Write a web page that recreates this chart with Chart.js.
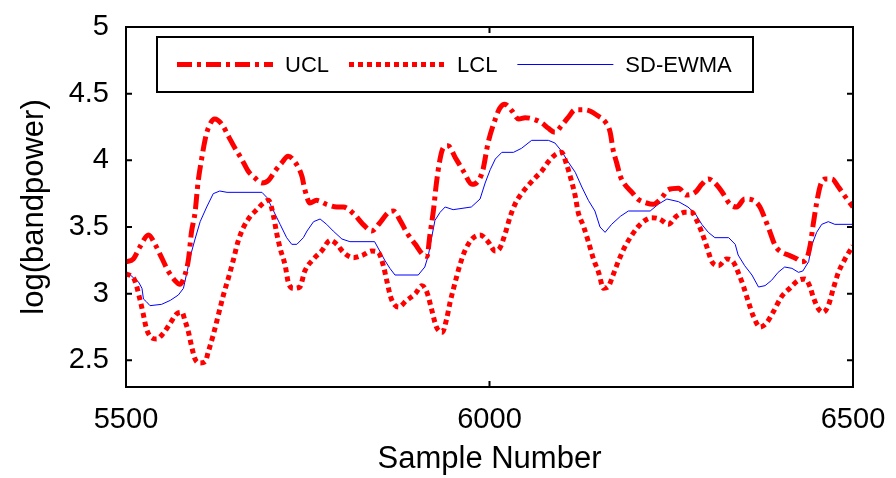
<!DOCTYPE html>
<html>
<head>
<meta charset="utf-8">
<script src="https://cdn.jsdelivr.net/npm/chart.js@4.4.1/dist/chart.umd.min.js"></script>
<style>
  body { margin: 0; background: #fff; }
</style>
</head>
<body>
<canvas id="myChart" width="896" height="478"></canvas>
<script>
const xTicks = [5500, 6000, 6500];
const yTicks = [2.5, 3, 3.5, 4, 4.5, 5];

// upper control limit
const uclSample = [5500, 5510, 5519, 5531, 5540, 5549, 5558, 5567, 5574, 5581, 5586, 5590, 5595, 5599, 5604, 5609, 5613, 5622, 5632, 5641,
  5650, 5659, 5668, 5677, 5687, 5696, 5705, 5714, 5723, 5732, 5742, 5746, 5753, 5762, 5776, 5790, 5799, 5813, 5826, 5838,
  5849, 5861, 5868, 5877, 5886, 5898, 5909, 5914, 5918, 5923, 5927, 5932, 5936, 5943, 5953, 5964, 5976, 5985, 5991, 5998,
  6008, 6014, 6021, 6031, 6040, 6049, 6060, 6072, 6081, 6090, 6099, 6108, 6118, 6129, 6138, 6150, 6159, 6166, 6170, 6175,
  6180, 6186, 6196, 6204, 6216, 6225, 6237, 6246, 6260, 6271, 6283, 6292, 6301, 6310, 6319, 6331, 6340, 6351, 6363, 6372,
  6379, 6386, 6393, 6402, 6411, 6423, 6429, 6436, 6441, 6445, 6450, 6455, 6462, 6471, 6480, 6489, 6500];
const uclValue = [3.24, 3.26, 3.35, 3.44, 3.37, 3.27, 3.17, 3.10, 3.07, 3.14, 3.26, 3.46, 3.61, 3.83, 4.01, 4.16, 4.24, 4.31, 4.27, 4.18,
  4.09, 4.01, 3.92, 3.87, 3.83, 3.85, 3.92, 3.98, 4.03, 3.99, 3.88, 3.78, 3.68, 3.70, 3.67, 3.65, 3.65, 3.60, 3.52, 3.47,
  3.53, 3.61, 3.62, 3.55, 3.46, 3.37, 3.29, 3.28, 3.44, 3.63, 3.83, 4.01, 4.09, 4.11, 4.02, 3.92, 3.82, 3.85, 3.93, 4.13,
  4.31, 4.39, 4.42, 4.37, 4.31, 4.32, 4.31, 4.28, 4.24, 4.21, 4.26, 4.32, 4.38, 4.38, 4.37, 4.33, 4.29, 4.21, 4.08, 3.98,
  3.88, 3.82, 3.76, 3.71, 3.68, 3.67, 3.72, 3.78, 3.79, 3.74, 3.76, 3.82, 3.86, 3.83, 3.77, 3.67, 3.65, 3.71, 3.70, 3.65,
  3.56, 3.46, 3.36, 3.31, 3.29, 3.26, 3.24, 3.26, 3.36, 3.51, 3.68, 3.81, 3.86, 3.86, 3.80, 3.73, 3.65];

// lower control limit
const lclSample = [5500, 5512, 5519, 5524, 5528, 5535, 5542, 5551, 5561, 5570, 5577, 5581, 5586, 5590, 5595, 5602, 5609, 5613, 5620, 5627,
  5634, 5641, 5648, 5654, 5661, 5671, 5680, 5689, 5696, 5703, 5707, 5712, 5719, 5723, 5730, 5739, 5746, 5758, 5769, 5781,
  5790, 5799, 5813, 5826, 5838, 5847, 5854, 5859, 5865, 5875, 5886, 5898, 5907, 5914, 5920, 5927, 5935, 5941, 5946, 5953,
  5959, 5966, 5976, 5987, 5998, 6008, 6014, 6021, 6028, 6035, 6044, 6053, 6063, 6072, 6081, 6090, 6099, 6106, 6112, 6118,
  6122, 6129, 6136, 6143, 6150, 6157, 6163, 6170, 6177, 6186, 6196, 6204, 6214, 6223, 6234, 6246, 6257, 6269, 6278, 6285,
  6292, 6299, 6306, 6315, 6326, 6335, 6342, 6349, 6356, 6363, 6372, 6381, 6390, 6402, 6413, 6425, 6434, 6441, 6445, 6452,
  6459, 6466, 6473, 6480, 6489, 6500];
const lclValue = [3.15, 3.10, 2.96, 2.84, 2.74, 2.67, 2.66, 2.70, 2.78, 2.85, 2.86, 2.80, 2.71, 2.61, 2.51, 2.48, 2.49, 2.56, 2.69, 2.84,
  2.99, 3.12, 3.26, 3.39, 3.49, 3.58, 3.63, 3.68, 3.70, 3.58, 3.46, 3.34, 3.21, 3.09, 3.04, 3.05, 3.17, 3.26, 3.32, 3.40,
  3.37, 3.31, 3.27, 3.29, 3.32, 3.31, 3.21, 3.09, 2.96, 2.90, 2.95, 3.00, 3.06, 3.01, 2.89, 2.75, 2.71, 2.81, 2.94, 3.09,
  3.21, 3.32, 3.41, 3.44, 3.39, 3.32, 3.34, 3.44, 3.57, 3.67, 3.75, 3.81, 3.87, 3.92, 3.99, 4.04, 4.06, 3.97, 3.86, 3.73,
  3.61, 3.51, 3.39, 3.26, 3.16, 3.04, 3.05, 3.14, 3.24, 3.35, 3.44, 3.50, 3.55, 3.57, 3.56, 3.52, 3.58, 3.61, 3.61, 3.55,
  3.46, 3.35, 3.24, 3.21, 3.26, 3.24, 3.16, 3.06, 2.94, 2.83, 2.75, 2.78, 2.86, 2.98, 3.04, 3.10, 3.11, 3.05, 2.98, 2.89,
  2.86, 2.91, 3.04, 3.16, 3.26, 3.36];

// SD-EWMA statistic
const ewmaSample = [5500, 5510, 5517, 5522, 5524, 5528, 5533, 5549, 5561, 5572, 5579, 5583, 5590, 5595, 5602, 5611, 5620, 5629, 5639, 5687,
  5694, 5703, 5712, 5721, 5728, 5735, 5744, 5749, 5758, 5767, 5776, 5785, 5797, 5808, 5842, 5849, 5856, 5863, 5870, 5902,
  5911, 5916, 5920, 5925, 5932, 5939, 5950, 5975, 5987, 5994, 6001, 6008, 6017, 6033, 6044, 6058, 6081, 6090, 6099, 6108,
  6118, 6127, 6136, 6145, 6152, 6159, 6168, 6180, 6191, 6221, 6232, 6244, 6260, 6273, 6283, 6292, 6301, 6310, 6329, 6338,
  6342, 6351, 6361, 6370, 6379, 6388, 6397, 6406, 6416, 6425, 6431, 6439, 6443, 6450, 6457, 6466, 6475, 6489, 6500];
const ewmaValue = [3.17, 3.12, 3.09, 3.04, 2.96, 2.94, 2.91, 2.92, 2.95, 2.99, 3.04, 3.14, 3.31, 3.41, 3.54, 3.65, 3.75, 3.77, 3.76, 3.76,
  3.72, 3.62, 3.52, 3.42, 3.37, 3.37, 3.42, 3.47, 3.54, 3.56, 3.52, 3.47, 3.41, 3.39, 3.39, 3.32, 3.25, 3.19, 3.14, 3.14,
  3.20, 3.29, 3.41, 3.55, 3.61, 3.65, 3.63, 3.65, 3.71, 3.83, 3.93, 4.01, 4.06, 4.06, 4.09, 4.15, 4.15, 4.13, 4.07, 3.99,
  3.91, 3.80, 3.70, 3.62, 3.50, 3.46, 3.52, 3.58, 3.62, 3.62, 3.67, 3.71, 3.69, 3.65, 3.60, 3.52, 3.46, 3.42, 3.42, 3.37,
  3.29, 3.21, 3.14, 3.05, 3.06, 3.10, 3.16, 3.20, 3.19, 3.16, 3.17, 3.24, 3.36, 3.46, 3.52, 3.54, 3.52, 3.52, 3.52];

const toPoints = (xs, ys) => xs.map((x, i) => ({ x: x, y: ys[i] }));

const fontFamily = '"Liberation Sans", Arial, Helvetica, sans-serif';

// box around the axes, inward tick marks and the legend box
const framePlugin = {
  id: "frame",
  afterDraw(chart) {
    const ctx = chart.ctx;
    const a = chart.chartArea;
    const xs = chart.scales.x;
    const ys = chart.scales.y;
    ctx.save();
    ctx.strokeStyle = "#000";
    ctx.lineWidth = 2;
    ctx.setLineDash([]);
    ctx.strokeRect(a.left, a.top, a.right - a.left, a.bottom - a.top);

    const tl = 6;
    ctx.beginPath();
    xTicks.forEach((v) => {
      const px = xs.getPixelForValue(v);
      ctx.moveTo(px, a.bottom); ctx.lineTo(px, a.bottom - tl);
      ctx.moveTo(px, a.top); ctx.lineTo(px, a.top + tl);
    });
    yTicks.forEach((v) => {
      const py = ys.getPixelForValue(v);
      ctx.moveTo(a.left, py); ctx.lineTo(a.left + tl, py);
      ctx.moveTo(a.right, py); ctx.lineTo(a.right - tl, py);
    });
    ctx.stroke();

    // legend
    const box = { left: a.left + 31, top: a.top + 10, right: a.left + 627, bottom: a.top + 65 };
    ctx.fillStyle = "#fff";
    ctx.fillRect(box.left, box.top, box.right - box.left, box.bottom - box.top);
    ctx.strokeRect(box.left, box.top, box.right - box.left, box.bottom - box.top);
    ctx.font = "22px " + fontFamily;
    ctx.textBaseline = "middle";
    const cy = (box.top + box.bottom) / 2;
    let x = box.left + 20;
    chart.data.datasets.forEach((ds) => {
      ctx.strokeStyle = ds.borderColor;
      ctx.lineWidth = ds.borderWidth;
      ctx.lineCap = "butt";
      ctx.setLineDash(ds.borderDash || []);
      ctx.beginPath();
      ctx.moveTo(x, cy);
      ctx.lineTo(x + 96, cy);
      ctx.stroke();
      ctx.setLineDash([]);
      ctx.fillStyle = "#000";
      ctx.fillText(ds.label, x + 108, cy + 1);
      x += 108 + ctx.measureText(ds.label).width + 20;
    });
    ctx.restore();
  },
};

const ctx = document.getElementById("myChart").getContext("2d");
new Chart(ctx, {
  type: "line",
  data: {
    datasets: [
      {
        label: "UCL",
        data: toPoints(uclSample, uclValue),
        borderColor: "#ff0000",
        borderWidth: 5,
        borderDash: [15, 5, 4, 5],
        cubicInterpolationMode: "monotone",
        pointRadius: 0,
      },
      {
        label: "LCL",
        data: toPoints(lclSample, lclValue),
        borderColor: "#ff0000",
        borderWidth: 5,
        borderDash: [5, 4],
        cubicInterpolationMode: "monotone",
        pointRadius: 0,
      },
      {
        label: "SD-EWMA",
        data: toPoints(ewmaSample, ewmaValue),
        borderColor: "#0000ff",
        borderWidth: 1,
        tension: 0,
        pointRadius: 0,
      },
    ],
  },
  options: {
    responsive: false,
    animation: false,
    layout: { padding: { left: 0, right: 43, top: 27, bottom: 0 } },
    plugins: {
      legend: { display: false },
      tooltip: { enabled: false },
    },
    scales: {
      x: {
        type: "linear",
        min: 5500,
        max: 6500,
        afterBuildTicks: (s) => { s.ticks = xTicks.map((v) => ({ value: v })); },
        afterFit: (s) => { s.height = 91; },
        grid: { display: false },
        border: { display: true, color: "#000", width: 2 },
        ticks: {
          color: "#000",
          padding: 8,
          maxRotation: 0,
          autoSkip: false,
          callback: (v) => String(v),
          font: { family: fontFamily, size: 29 },
        },
        title: {
          display: true,
          text: "Sample Number",
          color: "#000",
          padding: { top: 1, bottom: 0 },
          font: { family: fontFamily, size: 31 },
        },
      },
      y: {
        min: 2.3,
        max: 5,
        afterBuildTicks: (s) => { s.ticks = yTicks.map((v) => ({ value: v })); },
        afterFit: (s) => { s.width = 126; },
        grid: { display: false },
        border: { display: true, color: "#000", width: 2 },
        ticks: {
          color: "#000",
          padding: 9,
          autoSkip: false,
          callback: (v) => String(v),
          font: { family: fontFamily, size: 29 },
        },
        title: {
          display: true,
          text: "log(bandpower)",
          color: "#000",
          padding: { top: 16, bottom: 0 },
          font: { family: fontFamily, size: 31 },
        },
      },
    },
  },
  plugins: [framePlugin],
});
</script>
</body>
</html>
